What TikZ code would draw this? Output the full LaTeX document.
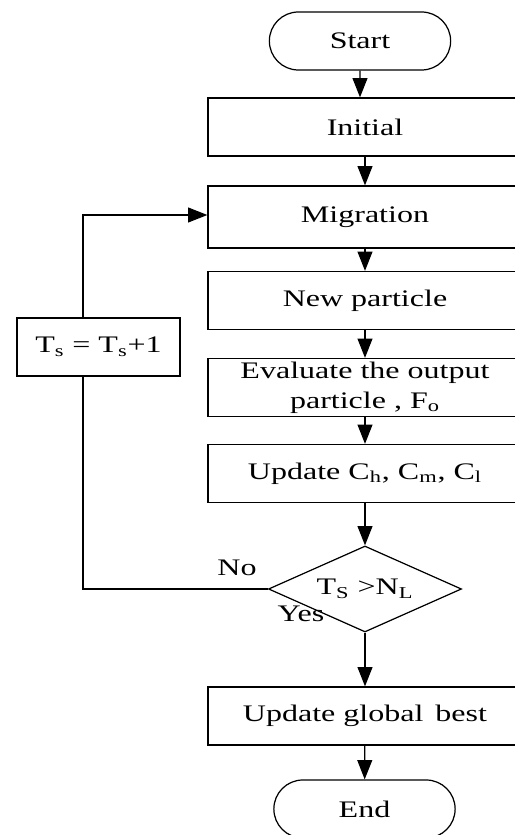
\documentclass[tikz,border=0pt]{standalone}
\usepackage{fontspec}
\setmainfont{Liberation Serif}[FakeStretch=1.35]
\usetikzlibrary{shapes.geometric,shapes.misc,arrows.meta}

\begin{document}
\begin{tikzpicture}[
  proc/.style={draw, line width=0.7pt, minimum width=6.28cm, minimum height=1.16cm, inner sep=1pt, align=center},
  term/.style={draw, rounded rectangle, line width=0.7pt, minimum width=3.86cm, minimum height=1.16cm},
  flow/.style={line width=0.7pt, -{Triangle[width=8.5pt,length=11pt]}},
  font=\fontsize{13.5}{17}\selectfont
]
\useasboundingbox (0,0) rectangle (10.3,16.7);
% main column
\node[term] (start) at (7.2,15.88) {Start};
\node[proc] (init) at (7.3,14.16) {Initial};
\node[proc, minimum height=1.24cm] (migr) at (7.3,12.36) {Migration};
\node[proc] (newp) at (7.3,10.69) {New particle};
\node[proc] (eval) at (7.3,8.95) {Evaluate the output\\particle , F\textsubscript{o}};
\node[proc] (upd) at (7.3,7.23) {Update C\textsubscript{h}, C\textsubscript{m}, C\textsubscript{l}};
\node[draw, diamond, shape aspect=2.24, line width=0.7pt, minimum width=3.86cm, minimum height=1.72cm, inner sep=0pt] (check) at (7.3,4.92) {T\textsubscript{S} >N\textsubscript{L}};
\node[proc] (glob) at (7.3,2.38) {Update global\, best};
\node[term] (finish) at (7.29,0.52) {End};
% loop back
\node[draw, line width=0.7pt, minimum width=3.26cm, minimum height=1.16cm] (tsbox) at (1.97,9.76) {T\textsubscript{s} = T\textsubscript{s}+1};
\coordinate (loop) at (1.66,12.4);
\node (no) at (4.74,5.34) {No};
\node (yes) at (6.02,4.42) {Yes};

\draw[flow] (start) -- (start |- init.north);
\draw[flow] (init) -- (migr);
\draw[flow] (migr) -- (newp);
\draw[flow] (newp) -- (eval);
\draw[flow] (eval) -- (upd);
\draw[flow] (upd) -- (check);
\draw[flow] (check) -- (glob);
\draw[flow] (glob) -- (finish);
\draw[line width=0.7pt] (check.west) -- (check.west -| loop) -- (tsbox.south -| loop);
\draw[flow] (tsbox.north -| loop) -- (loop) -- (migr.west |- loop);
\end{tikzpicture}
\end{document}
